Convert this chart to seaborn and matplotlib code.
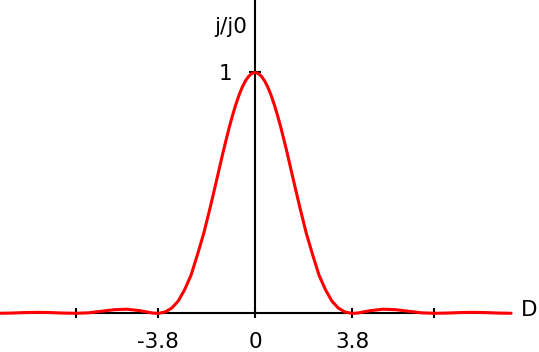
import matplotlib
matplotlib.use("Agg")
import matplotlib.pyplot as plt
import seaborn as sns
import pandas as pd

# Intensity profile
D = [-10.0, -9.5, -9.0, -8.5, -8.0, -7.5, -7.0, -6.5, -6.0, -5.5, -5.0, -4.5, -4.0,
     -3.83, -3.75, -3.5, -3.25, -3.0, -2.75, -2.5, -2.25, -2.0, -1.75, -1.5, -1.25,
     -1.125, -1.0, -0.875, -0.75, -0.625, -0.5, -0.375, -0.25, -0.125, 0.0,
     0.125, 0.25, 0.375, 0.5, 0.625, 0.75, 0.875, 1.0, 1.125, 1.25, 1.5, 1.75, 2.0,
     2.25, 2.5, 2.75, 3.0, 3.25, 3.5,
     3.75, 3.83, 4.0, 4.5, 5.0, 5.5, 6.0, 6.5, 7.0, 7.5, 8.0, 8.5, 9.0, 9.5, 10.0]
J = [0.0, 0.001, 0.003, 0.004, 0.003, 0.001, 0.0, 0.002, 0.0085, 0.015, 0.017, 0.011, 0.001,
     0.0, 0.0002, 0.006, 0.022, 0.051, 0.098, 0.158, 0.243, 0.333, 0.440, 0.553, 0.668,
     0.722, 0.775, 0.823, 0.867, 0.906, 0.939, 0.965, 0.984, 0.996, 1.0,
     0.996, 0.984, 0.965, 0.939, 0.906, 0.867, 0.823, 0.775, 0.722, 0.668, 0.553, 0.440, 0.333,
     0.243, 0.158, 0.098, 0.051, 0.022, 0.006,
     0.0002, 0.0, 0.001, 0.011, 0.017, 0.015, 0.0085, 0.002, 0.0, 0.001, 0.003, 0.004, 0.003, 0.001, 0.0]

xtick_pos = [-7.0, -3.8, 0.0, 3.8, 7.0]
xtick_lbl = ["", "-3.8", "0", "3.8", ""]
ytick_pos = [1.0]
ytick_lbl = ["1"]
x_name = "D"
y_name = "j/j0"

sns.set_style("white")
plt.rcParams['font.family'] = ['DejaVu Sans']

df = pd.DataFrame({"D": D, "J": J})

fig = plt.figure(figsize=(5.39, 3.52), dpi=100)
ax = fig.add_axes([0, 0, 1, 1])
sns.lineplot(data=df, x="D", y="J", color="red", linewidth=2.2, ax=ax, zorder=3, sort=False)

ax.set_xlim(-9.96, 11.09)
ax.set_ylim(-0.1607, 1.301)
ax.set_xlabel("")
ax.set_ylabel("")
ax.set_facecolor("white")

for s in ["top", "right"]:
    ax.spines[s].set_visible(False)
ax.spines["left"].set_position(("data", 0))
ax.spines["bottom"].set_position(("data", 0))
ax.spines["left"].set_bounds(0, 1.301)
ax.spines["bottom"].set_bounds(-10, 10)
for s in ["left", "bottom"]:
    ax.spines[s].set_color("black")
    ax.spines[s].set_linewidth(1.5)

ax.set_xticks(xtick_pos)
ax.set_xticklabels(xtick_lbl)
ax.set_yticks(ytick_pos)
ax.set_yticklabels(ytick_lbl)
ax.tick_params(axis="x", direction="inout", length=6.5, width=1.5, color="black",
               labelsize=15.5, pad=10, bottom=True, labelcolor="black")
ax.tick_params(axis="y", direction="inout", length=8, width=1.5, color="black",
               labelsize=15.5, pad=12, left=True, labelcolor="black")

ax.text(10.72, 0.012, x_name, fontsize=15.5, ha="center", va="center", color="black")
ax.text(-0.3, 1.19, y_name, fontsize=15.5, ha="right", va="center", color="black")

fig.savefig("out.png", dpi=100)
